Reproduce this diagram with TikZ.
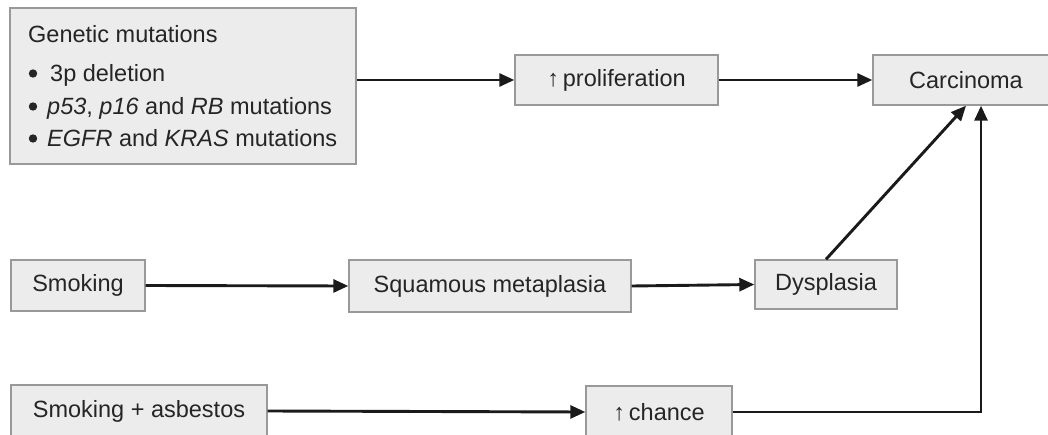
\documentclass[tikz,border=0pt]{standalone}
\usepackage{fontspec}
\setmainfont{Liberation Sans}
\usetikzlibrary{arrows.meta}
\definecolor{boxfill}{HTML}{ECECEC}
\definecolor{boxline}{HTML}{999999}
\definecolor{txt}{HTML}{252525}
\definecolor{arr}{HTML}{1A1A1A}
\tikzset{
  box/.style={draw=boxline, fill=boxfill, line width=1.4pt, inner sep=0pt,
    text=txt, font=\fontsize{23.5}{28}\selectfont},
  line/.style={anchor=base west, inner sep=0pt, text=txt, font=\fontsize{23.5}{28}\selectfont},
  bullet/.style={fill=txt},
  conn/.style={draw=arr, line width=2.9pt, -{Triangle[length=15pt,width=13pt]}},
}
\begin{document}
\begin{tikzpicture}[x=1pt,y=-1pt]
\clip (0,0) rectangle (1048,435);
\fill[white] (0,0) rectangle (1048,435);
% boxes
\node[box, minimum width=346pt, minimum height=156pt] (gen) at (183,86) {};
\node[line] (g0) at (28,43) {Genetic mutations};
\node[line] (g1) at (50,82) {3p deletion};
\node[line] (g2) at (47,115) {\textit{p53}, \textit{p16} and \textit{RB} mutations};
\node[line] (g3) at (47,147) {\textit{EGFR} and \textit{KRAS} mutations};
\fill[bullet] (33,73.5) circle (4.2);
\fill[bullet] (33,106.5) circle (4.2);
\fill[bullet] (33,138.5) circle (4.2);
\node[box, minimum width=203pt, minimum height=50pt] (prolif) at (616.5,80) {↑\,proliferation};
\node[box, minimum width=186pt, minimum height=50pt] (carc) at (966,80) {Carcinoma};
\node[box, minimum width=134pt, minimum height=51pt] (smok) at (78,285.5) {Smoking};
\node[box, minimum width=282pt, minimum height=52pt] (squam) at (490,286) {Squamous metaplasia};
\node[box, minimum width=142pt, minimum height=49pt] (dys) at (826,284.5) {Dysplasia};
\node[box, minimum width=256pt, minimum height=52pt] (asb) at (139,411) {Smoking + asbestos};
\node[box, minimum width=146pt, minimum height=52pt] (chance) at (659,412) {↑\,chance};
% connectors
\draw[conn] (gen.east |- prolif.west) -- (prolif.west);
\draw[conn] (prolif.east) -- (carc.west);
\draw[conn] (smok.east) -- (squam.west);
\draw[conn] (squam.east) -- (dys.west);
\draw[conn] (asb.east) -- (chance.west);
\draw[conn] (dys.north) -- (carc.south);
\draw[conn] (chance.east) -| ([xshift=15pt]carc.south);
\end{tikzpicture}
\end{document}
